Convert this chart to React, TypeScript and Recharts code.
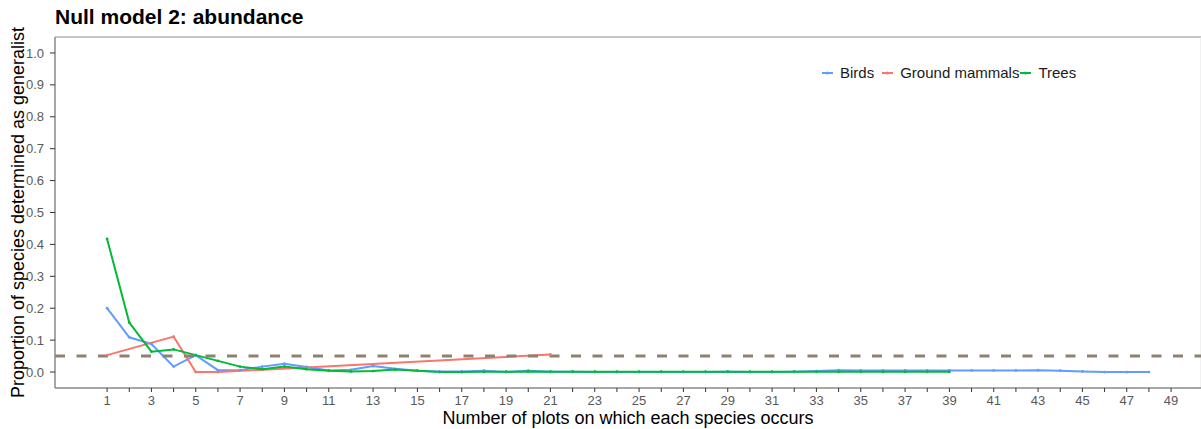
import React from 'react'
import { LineChart, Line, XAxis, YAxis, ReferenceLine, Label } from 'recharts'

const FONT = '"Liberation Sans", Arial, Helvetica, sans-serif'

const seriesNames = ['Birds', 'Ground mammals', 'Trees']
const seriesColors = ['#619CFF', '#F8766D', '#00BA38']

const birdsX = [
  1, 2, 3, 4, 5, 6, 7, 8, 9, 10, 11, 12, 13, 14, 15, 16, 17, 18, 19, 20, 21, 22, 23, 24,
  25, 26, 27, 28, 29, 30, 31, 32, 33, 34, 35, 36, 37, 38, 39, 40, 41, 42, 43, 44, 45, 46, 47, 48,
]
const birdsY = [
  0.2, 0.109, 0.088, 0.017, 0.053, 0.006, 0.006, 0.017, 0.026, 0.016, 0.005, 0.007, 0.019, 0.01,
  0.004, 0.002, 0.002, 0.004, 0.0, 0.004, 0.001, 0.001, 0.0, 0.0, 0.0, 0.0, 0.0, 0.0, 0.001, 0.0,
  0.0, 0.001, 0.003, 0.006, 0.005, 0.005, 0.005, 0.005, 0.005, 0.005, 0.005, 0.005, 0.006, 0.004,
  0.002, 0.0, 0.0, 0.0,
]

const mammalsX = [1, 4, 5, 6, 21]
const mammalsY = [0.053, 0.111, 0.0, 0.0, 0.055]

const treesX = [
  1, 2, 3, 4, 5, 6, 7, 8, 9, 10, 11, 12, 13, 14, 15, 16, 17, 18, 19, 20, 21, 22, 23, 24, 25, 26,
  27, 28, 29, 30, 31, 32, 33, 34, 35, 36, 37, 38, 39,
]
const treesY = [
  0.417, 0.155, 0.064, 0.071, 0.053, 0.035, 0.017, 0.009, 0.017, 0.009, 0.004, 0.002, 0.003,
  0.008, 0.004, 0.0, 0.0, 0.001, 0.001, 0.002, 0.001, 0.001, 0.001, 0.001, 0.001, 0.001, 0.001,
  0.001, 0.001, 0.001, 0.001, 0.001, 0.001, 0.001, 0.001, 0.001, 0.001, 0.001, 0.001,
]

const xTicks = [
  1, 2, 3, 4, 5, 6, 7, 8, 9, 10, 11, 12, 13, 14, 15, 16, 17, 18, 19, 20, 21, 22, 23, 24, 25,
  26, 27, 28, 29, 30, 31, 32, 33, 34, 35, 36, 37, 38, 39, 40, 41, 42, 43, 44, 45, 46, 47, 48, 49,
]
const yTicks = [0, 0.1, 0.2, 0.3, 0.4, 0.5, 0.6, 0.7, 0.8, 0.9, 1.0]
const threshold = 0.05

const toRows = (xs: number[], ys: number[]) => xs.map((x, i) => ({ x, y: ys[i] }))
const seriesData = [toRows(birdsX, birdsY), toRows(mammalsX, mammalsY), toRows(treesX, treesY)]

const XTick = (props: any) => {
  const { x, y, payload } = props
  if (payload.value % 2 === 0) return <g />
  return (
    <text x={x} y={y + 11} textAnchor="middle" fill="#595959" fontSize={13} fontFamily={FONT}>
      {payload.value}
    </text>
  )
}

export default function App() {
  return (
    <div style={{ position: 'absolute', left: 0, top: 0, width: 1201, height: 429, background: '#fff' }}>
      <div
        style={{
          position: 'absolute',
          left: 55,
          top: 5,
          fontFamily: FONT,
          fontWeight: 'bold',
          fontSize: 21,
          color: '#000',
        }}
      >
        Null model 2: abundance
      </div>
      <div
        style={{
          position: 'absolute',
          left: 821,
          top: 64,
          display: 'flex',
          alignItems: 'center',
          fontFamily: FONT,
          fontSize: 15,
          color: '#1a1a1a',
          zIndex: 2,
        }}
      >
        {seriesNames.map((name, i) => (
          <div key={name} style={{ display: 'flex', alignItems: 'center', marginRight: i === 0 ? 7 : 0 }}>
            <svg width={13} height={10} style={{ marginRight: 6 }}>
              <line x1={1} y1={5} x2={12} y2={5} stroke={seriesColors[i]} strokeWidth={2} />
              <circle cx={6.5} cy={5} r={1.5} fill={seriesColors[i]} />
            </svg>
            <span>{name}</span>
          </div>
        ))}
      </div>
      <LineChart width={1201} height={429} margin={{ top: 37, right: 0, bottom: 0, left: 0 }}>
        <XAxis
          dataKey="x"
          type="number"
          domain={[-1.35, 50.35]}
          allowDataOverflow
          ticks={xTicks}
          interval={0}
          tick={<XTick />}
          tickSize={4}
          tickLine={{ stroke: '#333333' }}
          axisLine={{ stroke: '#8a8a8a', strokeWidth: 1.5 }}
          height={41}
        >
          <Label
            value="Number of plots on which each species occurs"
            position="insideBottom"
            offset={5}
            style={{ fontFamily: FONT, fontSize: 18, fill: '#000' }}
          />
        </XAxis>
        <YAxis
          type="number"
          domain={[-0.05, 1.05]}
          allowDataOverflow
          ticks={yTicks}
          interval={0}
          width={55}
          tickFormatter={(v: number) => v.toFixed(1)}
          tick={{ fill: '#595959', fontSize: 13, fontFamily: FONT }}
          tickSize={5}
          tickMargin={6}
          tickLine={{ stroke: '#333333' }}
          axisLine={{ stroke: '#8a8a8a', strokeWidth: 1.5 }}
        >
          <Label
            value="Proportion of species determined as generalist"
            angle={-90}
            position="insideLeft"
            offset={18}
            style={{ textAnchor: 'middle', fontFamily: FONT, fontSize: 18, fill: '#000' }}
          />
        </YAxis>
        <ReferenceLine y={1.05} stroke="#b3b3b3" strokeWidth={1.5} />
        <ReferenceLine x={50.35} stroke="#e3e3e3" strokeWidth={1} />
        {seriesData.map((rows, i) => (
          <Line
            key={seriesNames[i]}
            data={rows}
            dataKey="y"
            name={seriesNames[i]}
            type="linear"
            stroke={seriesColors[i]}
            strokeWidth={2}
            dot={{ r: 1.4, fill: seriesColors[i], stroke: seriesColors[i], strokeWidth: 0 }}
            activeDot={false}
            isAnimationActive={false}
          />
        ))}
        <ReferenceLine
          y={threshold}
          stroke="#8e8170"
          strokeWidth={3}
          strokeDasharray="10 11.5"
        />
      </LineChart>
    </div>
  )
}
